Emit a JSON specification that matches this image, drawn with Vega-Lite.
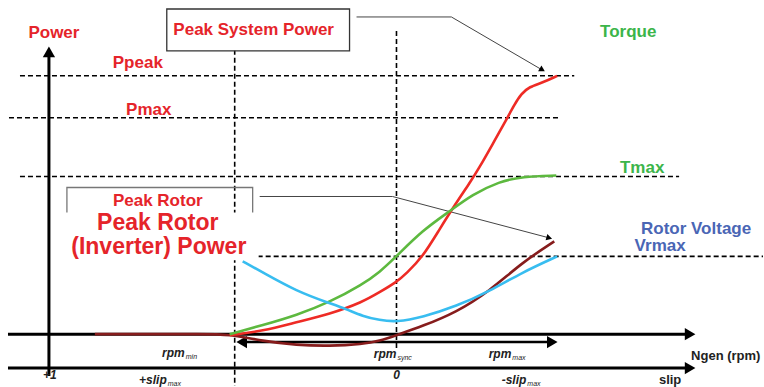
{
  "$schema": "https://vega.github.io/schema/vega-lite/v6.json",
  "width": 764,
  "height": 387,
  "autosize": {"type": "fit", "contains": "padding"},
  "padding": 0,
  "background": "white",
  "config": {"view": {"stroke": null}, "text": {"font": "Liberation Sans"}},
  "datasets": {
    "dash": [
      {"x": 20, "x2": 575, "y": 76, "y2": 76},
      {"x": 9, "x2": 560, "y": 118, "y2": 118},
      {"x": 20, "x2": 680, "y": 177, "y2": 177},
      {"x": 258, "x2": 764, "y": 257, "y2": 257},
      {"x": 235, "x2": 235, "y": 50, "y2": 387},
      {"x": 397, "x2": 397, "y": 31, "y2": 350}
    ],
    "thick": [
      {"x": 49, "x2": 49, "y": 57, "y2": 377},
      {"x": 8, "x2": 688, "y": 335, "y2": 335},
      {"x": 8, "x2": 688, "y": 369, "y2": 369}
    ],
    "dbl": [{"x": 244, "x2": 550, "y": 343, "y2": 343}],
    "box": [{"x": 167, "x2": 350, "y": 9, "y2": 51}],
    "bracket": [{"x": 67, "x2": 253, "y": 188, "y2": 240}],
    "cover": [{"x": 60, "x2": 259, "y": 213, "y2": 261}],
    "headUp": [{"x": 49, "y": 52}],
    "headRight": [{"x": 691, "y": 335}, {"x": 691, "y": 369}, {"x": 553, "y": 343}],
    "headLeft": [{"x": 242, "y": 343}],
    "conn": [
      {"id": 1, "i": 0, "x": 357, "y": 17},
      {"id": 1, "i": 1, "x": 452, "y": 17},
      {"id": 1, "i": 2, "x": 541, "y": 69},
      {"id": 2, "i": 0, "x": 260, "y": 197},
      {"id": 2, "i": 1, "x": 393, "y": 197},
      {"id": 2, "i": 2, "x": 548, "y": 238}
    ],
    "curves": [
      {"s": "Rotor power", "x": 95, "y": 335},
      {"s": "Rotor power", "x": 150, "y": 335},
      {"s": "Rotor power", "x": 200, "y": 335},
      {"s": "Rotor power", "x": 230, "y": 335},
      {"s": "Rotor power", "x": 263, "y": 342},
      {"s": "Rotor power", "x": 297, "y": 346},
      {"s": "Rotor power", "x": 330, "y": 347},
      {"s": "Rotor power", "x": 363, "y": 345},
      {"s": "Rotor power", "x": 380, "y": 342},
      {"s": "Rotor power", "x": 397, "y": 336},
      {"s": "Rotor power", "x": 423, "y": 327},
      {"s": "Rotor power", "x": 457, "y": 313},
      {"s": "Rotor power", "x": 490, "y": 292},
      {"s": "Rotor power", "x": 523, "y": 263},
      {"s": "Rotor power", "x": 555, "y": 242},
      {"s": "System power", "x": 230, "y": 336},
      {"s": "System power", "x": 263, "y": 332},
      {"s": "System power", "x": 297, "y": 323},
      {"s": "System power", "x": 330, "y": 315},
      {"s": "System power", "x": 363, "y": 303},
      {"s": "System power", "x": 380, "y": 293},
      {"s": "System power", "x": 397, "y": 283},
      {"s": "System power", "x": 407, "y": 274},
      {"s": "System power", "x": 423, "y": 258},
      {"s": "System power", "x": 440, "y": 230},
      {"s": "System power", "x": 457, "y": 203},
      {"s": "System power", "x": 470, "y": 184},
      {"s": "System power", "x": 480, "y": 168},
      {"s": "System power", "x": 493, "y": 145},
      {"s": "System power", "x": 507, "y": 120},
      {"s": "System power", "x": 515, "y": 105},
      {"s": "System power", "x": 522, "y": 94},
      {"s": "System power", "x": 530, "y": 87},
      {"s": "System power", "x": 543, "y": 83},
      {"s": "System power", "x": 558, "y": 76},
      {"s": "Torque", "x": 230, "y": 335},
      {"s": "Torque", "x": 263, "y": 326},
      {"s": "Torque", "x": 297, "y": 316},
      {"s": "Torque", "x": 330, "y": 303},
      {"s": "Torque", "x": 363, "y": 285},
      {"s": "Torque", "x": 380, "y": 273},
      {"s": "Torque", "x": 397, "y": 257},
      {"s": "Torque", "x": 423, "y": 231},
      {"s": "Torque", "x": 450, "y": 212},
      {"s": "Torque", "x": 473, "y": 195},
      {"s": "Torque", "x": 500, "y": 182},
      {"s": "Torque", "x": 523, "y": 177},
      {"s": "Torque", "x": 557, "y": 176},
      {"s": "Rotor voltage", "x": 243, "y": 262},
      {"s": "Rotor voltage", "x": 263, "y": 273},
      {"s": "Rotor voltage", "x": 297, "y": 292},
      {"s": "Rotor voltage", "x": 330, "y": 304},
      {"s": "Rotor voltage", "x": 347, "y": 310},
      {"s": "Rotor voltage", "x": 363, "y": 317},
      {"s": "Rotor voltage", "x": 380, "y": 321},
      {"s": "Rotor voltage", "x": 397, "y": 323},
      {"s": "Rotor voltage", "x": 423, "y": 318},
      {"s": "Rotor voltage", "x": 457, "y": 307},
      {"s": "Rotor voltage", "x": 490, "y": 292},
      {"s": "Rotor voltage", "x": 523, "y": 273},
      {"s": "Rotor voltage", "x": 558, "y": 257}
    ],
    "redText": [
      {"t": "Power", "x": 54, "y": 38},
      {"t": "Peak System Power", "x": 254, "y": 35},
      {"t": "Ppeak", "x": 138, "y": 68},
      {"t": "Pmax", "x": 149, "y": 115},
      {"t": "Peak Rotor", "x": 158, "y": 207}
    ],
    "bigRed": [
      {"t": "Peak Rotor", "x": 158, "y": 231},
      {"t": "(Inverter) Power", "x": 159, "y": 255}
    ],
    "greenText": [
      {"t": "Torque", "x": 629, "y": 37},
      {"t": "Tmax", "x": 643, "y": 173}
    ],
    "blueText": [
      {"t": "Rotor Voltage", "x": 697, "y": 235},
      {"t": "Vrmax", "x": 661, "y": 252}
    ],
    "lblMain": [
      {"t": "rpm", "x": 185, "y": 358},
      {"t": "rpm", "x": 397, "y": 359},
      {"t": "rpm", "x": 512, "y": 359},
      {"t": "+slip", "x": 167, "y": 385},
      {"t": "-slip", "x": 527, "y": 385}
    ],
    "lblSub": [
      {"t": "min", "x": 186, "y": 360},
      {"t": "sync", "x": 398, "y": 361},
      {"t": "max", "x": 513, "y": 361},
      {"t": "max", "x": 168, "y": 387},
      {"t": "max", "x": 528, "y": 387}
    ],
    "lblPlain": [
      {"t": "+1", "x": 50, "y": 380},
      {"t": "0", "x": 397, "y": 380}
    ],
    "lblAxisL": [{"t": "Ngen (rpm)", "x": 692, "y": 361}],
    "lblAxisC": [{"t": "slip", "x": 671, "y": 385}]
  },
  "encoding": {
    "x": {"field": "x", "type": "quantitative", "scale": {"domain": [0, 764], "nice": false, "zero": false}, "axis": null},
    "y": {"field": "y", "type": "quantitative", "scale": {"domain": [0, 387], "reverse": true, "nice": false, "zero": false}, "axis": null}
  },
  "layer": [
    {
      "data": {"name": "dash"},
      "mark": {"type": "rule", "color": "black", "strokeWidth": 1.6, "strokeDash": [5, 3]},
      "encoding": {"x2": {"field": "x2"}, "y2": {"field": "y2"}}
    },
    {
      "data": {"name": "box"},
      "mark": {"type": "rect", "fill": "white", "stroke": "#333", "strokeWidth": 1.3},
      "encoding": {"x2": {"field": "x2"}, "y2": {"field": "y2"}}
    },
    {
      "data": {"name": "bracket"},
      "mark": {"type": "rect", "fill": "white", "fillOpacity": 0, "stroke": "#777", "strokeWidth": 1.3},
      "encoding": {"x2": {"field": "x2"}, "y2": {"field": "y2"}}
    },
    {
      "data": {"name": "cover"},
      "mark": {"type": "rect", "fill": "white", "strokeWidth": 0},
      "encoding": {"x2": {"field": "x2"}, "y2": {"field": "y2"}}
    },
    {
      "data": {"name": "thick"},
      "mark": {"type": "rule", "color": "black", "strokeWidth": 3},
      "encoding": {"x2": {"field": "x2"}, "y2": {"field": "y2"}}
    },
    {
      "data": {"name": "dbl"},
      "mark": {"type": "rule", "color": "black", "strokeWidth": 2.5},
      "encoding": {"x2": {"field": "x2"}, "y2": {"field": "y2"}}
    },
    {
      "data": {"name": "headUp"},
      "mark": {"type": "point", "shape": "triangle-up", "filled": true, "color": "black", "opacity": 1, "size": 150}
    },
    {
      "data": {"name": "headRight"},
      "mark": {"type": "point", "shape": "triangle-right", "filled": true, "color": "black", "opacity": 1, "size": 150}
    },
    {
      "data": {"name": "headLeft"},
      "mark": {"type": "point", "shape": "triangle-left", "filled": true, "color": "black", "opacity": 1, "size": 150}
    },
    {
      "data": {"name": "conn"},
      "mark": {"type": "line", "color": "#444", "strokeWidth": 1},
      "encoding": {"detail": {"field": "id"}, "order": {"field": "i"}}
    },
    {
      "data": {"name": "curves"},
      "mark": {"type": "line", "strokeWidth": 2.6, "interpolate": "basis"},
      "encoding": {
        "color": {"field": "s", "type": "nominal", "legend": null,
          "scale": {"domain": ["Torque", "Rotor voltage", "System power", "Rotor power"], "range": ["#5db93f", "#38bdf0", "#ee2b25", "#861c1c"]}}
      }
    },
    {
      "data": {"values": [{"x": 543, "y": 70}]},
      "mark": {"type": "point", "shape": "triangle-up", "filled": true, "color": "black", "opacity": 1, "size": 45, "angle": 120}
    },
    {
      "data": {"values": [{"x": 550, "y": 238.5}]},
      "mark": {"type": "point", "shape": "triangle-up", "filled": true, "color": "black", "opacity": 1, "size": 45, "angle": 105}
    },
    {
      "data": {"name": "redText"},
      "mark": {"type": "text", "fontWeight": "bold", "fontSize": 17, "color": "#e5242a", "baseline": "alphabetic", "align": "center"},
      "encoding": {"text": {"field": "t"}}
    },
    {
      "data": {"name": "bigRed"},
      "mark": {"type": "text", "fontWeight": "bold", "fontSize": 23, "color": "#e5242a", "baseline": "alphabetic", "align": "center"},
      "encoding": {"text": {"field": "t"}}
    },
    {
      "data": {"name": "greenText"},
      "mark": {"type": "text", "fontWeight": "bold", "fontSize": 17, "color": "#3cb54a", "baseline": "alphabetic", "align": "center"},
      "encoding": {"text": {"field": "t"}}
    },
    {
      "data": {"name": "blueText"},
      "mark": {"type": "text", "fontWeight": "bold", "fontSize": 17, "color": "#4a66b5", "baseline": "alphabetic", "align": "center"},
      "encoding": {"text": {"field": "t"}}
    },
    {
      "data": {"name": "lblMain"},
      "mark": {"type": "text", "fontWeight": "bold", "fontStyle": "italic", "fontSize": 12, "color": "#222", "baseline": "alphabetic", "align": "right"},
      "encoding": {"text": {"field": "t"}}
    },
    {
      "data": {"name": "lblSub"},
      "mark": {"type": "text", "fontStyle": "italic", "fontSize": 7, "color": "#222", "baseline": "alphabetic", "align": "left"},
      "encoding": {"text": {"field": "t"}}
    },
    {
      "data": {"name": "lblPlain"},
      "mark": {"type": "text", "fontWeight": "bold", "fontStyle": "italic", "fontSize": 12, "color": "#222", "baseline": "alphabetic", "align": "center"},
      "encoding": {"text": {"field": "t"}}
    },
    {
      "data": {"name": "lblAxisL"},
      "mark": {"type": "text", "fontWeight": "bold", "fontSize": 13, "color": "#222", "baseline": "alphabetic", "align": "left"},
      "encoding": {"text": {"field": "t"}}
    },
    {
      "data": {"name": "lblAxisC"},
      "mark": {"type": "text", "fontWeight": "bold", "fontSize": 13, "color": "#222", "baseline": "alphabetic", "align": "center"},
      "encoding": {"text": {"field": "t"}}
    }
  ]
}
